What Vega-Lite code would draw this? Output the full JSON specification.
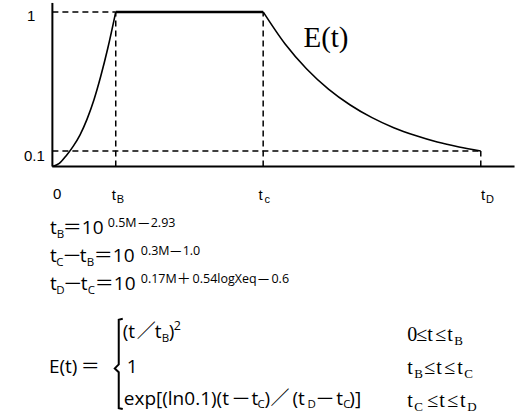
{
  "$schema": "https://vega.github.io/schema/vega-lite/v6.json",
  "width": 516,
  "height": 415,
  "autosize": {"type": "fit", "contains": "padding"},
  "padding": 0,
  "background": "white",
  "config": {"view": {"stroke": null}},
  "datasets": {
    "axes": [
      {"t": 0, "E": 0, "t2": 0, "E2": 1.058},
      {"t": 0, "E": 0, "t2": 10.022, "E2": 0}
    ],
    "guides": [
      {"t": 0, "E": 1, "t2": 1.374, "E2": 1},
      {"t": 0, "E": 0.1, "t2": 9.29, "E2": 0.1},
      {"t": 1.374, "E": 0, "t2": 1.374, "E2": 1},
      {"t": 4.571, "E": 0, "t2": 4.571, "E2": 1},
      {"t": 9.29, "E": 0, "t2": 9.29, "E2": 0.1}
    ],
    "plateau": [
      {"t": 1.374, "E": 1, "t2": 4.571, "E2": 1}
    ],
    "curve": [
      {"seg": "rise", "t": 0, "E": 0},
      {"seg": "rise", "t": 0.15, "E": 0.02},
      {"seg": "rise", "t": 0.3, "E": 0.07},
      {"seg": "rise", "t": 0.45, "E": 0.13},
      {"seg": "rise", "t": 0.6, "E": 0.205},
      {"seg": "rise", "t": 0.75, "E": 0.305},
      {"seg": "rise", "t": 0.9, "E": 0.43},
      {"seg": "rise", "t": 1.05, "E": 0.585},
      {"seg": "rise", "t": 1.2, "E": 0.763},
      {"seg": "rise", "t": 1.374, "E": 1},
      {"seg": "decay", "t": 4.571, "E": 1},
      {"seg": "decay", "t": 5.043, "E": 0.794},
      {"seg": "decay", "t": 5.515, "E": 0.631},
      {"seg": "decay", "t": 5.987, "E": 0.501},
      {"seg": "decay", "t": 6.459, "E": 0.398},
      {"seg": "decay", "t": 6.931, "E": 0.316},
      {"seg": "decay", "t": 7.402, "E": 0.251},
      {"seg": "decay", "t": 7.874, "E": 0.2},
      {"seg": "decay", "t": 8.346, "E": 0.158},
      {"seg": "decay", "t": 8.818, "E": 0.126},
      {"seg": "decay", "t": 9.29, "E": 0.1}
    ],
    "brace": [
      {"o": 1, "t": 1.526, "E": -0.985},
      {"o": 2, "t": 1.439, "E": -0.991},
      {"o": 3, "t": 1.439, "E": -1.28},
      {"o": 4, "t": 1.353, "E": -1.306},
      {"o": 5, "t": 1.439, "E": -1.331},
      {"o": 6, "t": 1.439, "E": -1.563},
      {"o": 7, "t": 1.526, "E": -1.569}
    ],
    "axisText": [
      {"label": "1", "t": -0.552, "E": 0.942},
      {"label": "0.1", "t": -0.617, "E": 0.037},
      {"label": "0", "t": 0.011, "E": -0.207},
      {"label": "t", "t": 1.288, "E": -0.214},
      {"label": "t", "t": 4.47, "E": -0.214},
      {"label": "t", "t": 9.297, "E": -0.214}
    ],
    "axisSub": [
      {"label": "B", "t": 1.396, "E": -0.233},
      {"label": "c", "t": 4.6, "E": -0.233},
      {"label": "D", "t": 9.405, "E": -0.233}
    ],
    "title": [
      {"label": "E(t)", "t": 5.444, "E": 0.775}
    ],
    "fMain": [
      {"label": "t", "t": -0.054, "E": -0.439},
      {"label": "10", "t": 0.639, "E": -0.439},
      {"label": "t", "t": -0.054, "E": -0.618},
      {"label": "t", "t": 0.595, "E": -0.618},
      {"label": "10", "t": 1.31, "E": -0.618},
      {"label": "t", "t": -0.054, "E": -0.798},
      {"label": "t", "t": 0.617, "E": -0.798},
      {"label": "10", "t": 1.331, "E": -0.798},
      {"label": "E(t)", "t": -0.076, "E": -1.338},
      {"label": "(t", "t": 1.526, "E": -1.107},
      {"label": "t", "t": 2.219, "E": -1.107},
      {"label": ")", "t": 2.522, "E": -1.107},
      {"label": "1", "t": 1.613, "E": -1.338},
      {"label": "exp[(ln0.1)(t", "t": 1.548, "E": -1.543},
      {"label": "t", "t": 4.318, "E": -1.543},
      {"label": ")", "t": 4.6, "E": -1.543},
      {"label": "(t", "t": 5.206, "E": -1.543},
      {"label": "t", "t": 6.158, "E": -1.543},
      {"label": ")]", "t": 6.439, "E": -1.543}
    ],
    "fOp": [
      {"label": "＝", "t": 0.227, "E": -0.439},
      {"label": "＝", "t": 0.898, "E": -0.618},
      {"label": "＝", "t": 0.92, "E": -0.798},
      {"label": "＝", "t": 0.617, "E": -1.338},
      {"label": "／", "t": 1.829, "E": -1.107},
      {"label": "／", "t": 4.729, "E": -1.543}
    ],
    "fMinus": [
      {"label": "－", "t": 0.206, "E": -0.625},
      {"label": "－", "t": 0.227, "E": -0.805},
      {"label": "－", "t": 3.874, "E": -1.55},
      {"label": "－", "t": 5.693, "E": -1.55}
    ],
    "fSub": [
      {"label": "B", "t": 0.097, "E": -0.464},
      {"label": "C", "t": 0.086, "E": -0.644},
      {"label": "B", "t": 0.747, "E": -0.644},
      {"label": "D", "t": 0.086, "E": -0.824},
      {"label": "C", "t": 0.768, "E": -0.824},
      {"label": "B", "t": 2.37, "E": -1.132},
      {"label": "C", "t": 4.448, "E": -1.563},
      {"label": "D", "t": 5.53, "E": -1.563},
      {"label": "C", "t": 6.31, "E": -1.563}
    ],
    "fSup": [
      {"label": "0.5M", "t": 1.201, "E": -0.394},
      {"label": "2.93", "t": 2.132, "E": -0.394},
      {"label": "0.3M", "t": 1.916, "E": -0.574},
      {"label": "1.0", "t": 2.825, "E": -0.574},
      {"label": "0.17M", "t": 1.916, "E": -0.753},
      {"label": "0.54logXeq", "t": 3.041, "E": -0.753},
      {"label": "0.6", "t": 4.751, "E": -0.753},
      {"label": "2", "t": 2.63, "E": -1.055}
    ],
    "fSupOp": [
      {"label": "＋", "t": 2.695, "E": -0.753}
    ],
    "fSupMinus": [
      {"label": "－", "t": 1.829, "E": -0.4},
      {"label": "－", "t": 2.522, "E": -0.58},
      {"label": "－", "t": 4.427, "E": -0.76}
    ],
    "serifMain": [
      {"label": "0", "t": 7.695, "E": -1.126},
      {"label": "≤", "t": 7.89, "E": -1.126},
      {"label": "t", "t": 8.128, "E": -1.126},
      {"label": "≤", "t": 8.301, "E": -1.126},
      {"label": "t", "t": 8.561, "E": -1.126},
      {"label": "t", "t": 7.695, "E": -1.344},
      {"label": "≤", "t": 8.063, "E": -1.344},
      {"label": "t", "t": 8.323, "E": -1.344},
      {"label": "≤", "t": 8.496, "E": -1.344},
      {"label": "t", "t": 8.777, "E": -1.344},
      {"label": "t", "t": 7.695, "E": -1.556},
      {"label": "≤", "t": 8.128, "E": -1.556},
      {"label": "t", "t": 8.387, "E": -1.556},
      {"label": "≤", "t": 8.561, "E": -1.556},
      {"label": "t", "t": 8.842, "E": -1.556}
    ],
    "serifSub": [
      {"label": "B", "t": 8.712, "E": -1.152},
      {"label": "B", "t": 7.846, "E": -1.37},
      {"label": "C", "t": 8.929, "E": -1.37},
      {"label": "C", "t": 7.846, "E": -1.582},
      {"label": "D", "t": 8.994, "E": -1.582}
    ]
  },
  "encoding": {
    "x": {"field": "t", "type": "quantitative", "scale": {"domain": [-1.136, 10.032], "nice": false, "zero": false}, "axis": null},
    "y": {"field": "E", "type": "quantitative", "scale": {"domain": [-1.588, 1.077], "nice": false, "zero": false}, "axis": null}
  },
  "layer": [
    {
      "data": {"name": "guides"},
      "mark": {"type": "rule", "color": "black", "strokeWidth": 1.5, "strokeDash": [6, 4]},
      "encoding": {"x2": {"field": "t2"}, "y2": {"field": "E2"}}
    },
    {
      "data": {"name": "axes"},
      "mark": {"type": "rule", "color": "black", "strokeWidth": 2},
      "encoding": {"x2": {"field": "t2"}, "y2": {"field": "E2"}}
    },
    {
      "data": {"name": "plateau"},
      "mark": {"type": "rule", "color": "black", "strokeWidth": 2.5},
      "encoding": {"x2": {"field": "t2"}, "y2": {"field": "E2"}}
    },
    {
      "data": {"name": "curve"},
      "mark": {"type": "line", "color": "black", "strokeWidth": 1.6, "interpolate": "monotone"},
      "encoding": {"detail": {"field": "seg"}}
    },
    {
      "data": {"name": "brace"},
      "mark": {"type": "line", "color": "black", "strokeWidth": 2},
      "encoding": {"order": {"field": "o", "type": "quantitative"}}
    },
    {
      "data": {"name": "axisText"},
      "mark": {"type": "text", "align": "left", "baseline": "alphabetic", "font": "Liberation Sans", "fontSize": 15, "color": "black"},
      "encoding": {"text": {"field": "label"}}
    },
    {
      "data": {"name": "axisSub"},
      "mark": {"type": "text", "align": "left", "baseline": "alphabetic", "font": "Liberation Sans", "fontSize": 11, "color": "black"},
      "encoding": {"text": {"field": "label"}}
    },
    {
      "data": {"name": "title"},
      "mark": {"type": "text", "align": "left", "baseline": "alphabetic", "font": "Liberation Serif", "fontSize": 29, "color": "black"},
      "encoding": {"text": {"field": "label"}}
    },
    {
      "data": {"name": "fMain"},
      "mark": {"type": "text", "align": "left", "baseline": "alphabetic", "font": "Open Sans", "fontSize": 19, "color": "black"},
      "encoding": {"text": {"field": "label"}}
    },
    {
      "data": {"name": "fOp"},
      "mark": {"type": "text", "align": "left", "baseline": "alphabetic", "font": "Noto Sans CJK JP", "fontSize": 19, "color": "black"},
      "encoding": {"text": {"field": "label"}}
    },
    {
      "data": {"name": "fMinus"},
      "mark": {"type": "text", "align": "left", "baseline": "alphabetic", "font": "Noto Sans CJK SC", "fontSize": 20, "color": "black"},
      "encoding": {"text": {"field": "label"}}
    },
    {
      "data": {"name": "fSub"},
      "mark": {"type": "text", "align": "left", "baseline": "alphabetic", "font": "Open Sans", "fontSize": 11.5, "color": "black"},
      "encoding": {"text": {"field": "label"}}
    },
    {
      "data": {"name": "fSup"},
      "mark": {"type": "text", "align": "left", "baseline": "alphabetic", "font": "Open Sans", "fontSize": 12.5, "color": "black"},
      "encoding": {"text": {"field": "label"}}
    },
    {
      "data": {"name": "fSupOp"},
      "mark": {"type": "text", "align": "left", "baseline": "alphabetic", "font": "Noto Sans CJK JP", "fontSize": 14, "color": "black"},
      "encoding": {"text": {"field": "label"}}
    },
    {
      "data": {"name": "fSupMinus"},
      "mark": {"type": "text", "align": "left", "baseline": "alphabetic", "font": "Noto Sans CJK SC", "fontSize": 14, "color": "black"},
      "encoding": {"text": {"field": "label"}}
    },
    {
      "data": {"name": "serifMain"},
      "mark": {"type": "text", "align": "left", "baseline": "alphabetic", "font": "Liberation Serif", "fontSize": 20, "color": "black"},
      "encoding": {"text": {"field": "label"}}
    },
    {
      "data": {"name": "serifSub"},
      "mark": {"type": "text", "align": "left", "baseline": "alphabetic", "font": "Liberation Serif", "fontSize": 13, "color": "black"},
      "encoding": {"text": {"field": "label"}}
    }
  ]
}
